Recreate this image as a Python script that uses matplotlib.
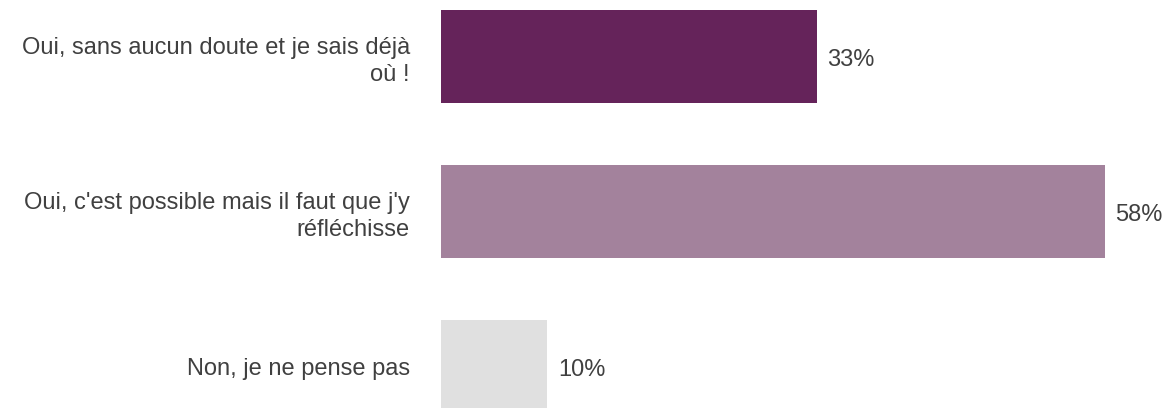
import matplotlib
matplotlib.use("Agg")
import matplotlib.pyplot as plt

categories = ["Oui, sans aucun doute et je sais déjà\noù !",
              "Oui, c'est possible mais il faut que j'y\nréfléchisse",
              "Non, je ne pense pas"]
values = [32.8, 58.0, 9.3]
value_labels = ["33%", "58%", "10%"]
colors = ["#65235A", "#A3829C", "#E0E0E0"]

plt.rcParams['font.family'] = ['Liberation Sans', 'DejaVu Sans']
fig = plt.figure(figsize=(11.67, 4.08), dpi=100)
W, H = 1167, 408
left_px = 441
px_per_unit = 11.45
xmax = 60
ax = fig.add_axes([left_px / W, 0, xmax * px_per_unit / W, 1])
ypos = list(range(len(categories)))
ax.barh(ypos, values, height=0.6, color=colors)
ax.set_xlim(0, xmax)
ax.set_ylim(2.268, -0.3645)
ax.set_yticks(ypos)
ax.set_yticklabels(categories, fontsize=17, color="#404040", linespacing=1.3,
                   multialignment="right")
ax.tick_params(axis="y", length=0, pad=22.5)
ax.set_xticks([])
for s in ax.spines.values():
    s.set_visible(False)
for y, v, lab in zip(ypos, values, value_labels):
    ax.annotate(lab, (v, y), xytext=(7.5, -2.5), textcoords="offset points",
                va="center", ha="left", fontsize=17, color="#404040")
fig.savefig("out.png", dpi=100)
